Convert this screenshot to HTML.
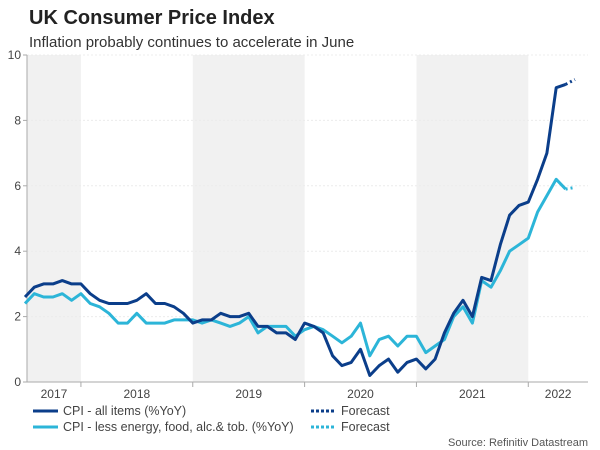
<!DOCTYPE html>
<html><head><meta charset="utf-8"><style>
body{margin:0;background:#fff;}
svg{display:block;font-family:"Liberation Sans",Arial,sans-serif;}
</style></head><body>
<svg id="chart" width="600" height="450" viewBox="0 0 600 450">
<text x="29" y="24" font-size="20" font-weight="bold" fill="#222">UK Consumer Price Index</text>
<text x="29" y="47" font-size="15" fill="#333">Inflation probably continues to accelerate in June</text>
<g id="bands"></g><g id="grid"></g><g id="axes"></g><g id="series"></g>
<g font-size="12.5" fill="#444">
<line x1="33" y1="411" x2="58" y2="411" stroke="#0b3e8a" stroke-width="3"/>
<text x="63" y="415">CPI - all items (%YoY)</text>
<line x1="33" y1="427" x2="58" y2="427" stroke="#2cb5d8" stroke-width="3"/>
<text x="63" y="431">CPI - less energy, food, alc.&amp; tob. (%YoY)</text>
<line x1="311" y1="411" x2="336" y2="411" stroke="#0b3e8a" stroke-width="3" stroke-dasharray="3,2"/>
<text x="341" y="415">Forecast</text>
<line x1="311" y1="427" x2="336" y2="427" stroke="#2cb5d8" stroke-width="3" stroke-dasharray="3,2"/>
<text x="341" y="431">Forecast</text>
</g>
<text x="588" y="446" font-size="11" fill="#555" text-anchor="end">Source: Refinitiv Datastream</text>
</svg>
<script>
// Monthly data Jul 2017 .. May 2022 (actual), forecast Jun 2022
const cpi = [2.6,2.9,3.0,3.0,3.1,3.0, 3.0,2.7,2.5,2.4,2.4,2.4,2.5,2.7,2.4,2.4,2.3,2.1, 1.8,1.9,1.9,2.1,2.0,2.0,2.1,1.7,1.7,1.5,1.5,1.3, 1.8,1.7,1.5,0.8,0.5,0.6,1.0,0.2,0.5,0.7,0.3,0.6, 0.7,0.4,0.7,1.5,2.1,2.5,2.0,3.2,3.1,4.2,5.1,5.4, 5.5,6.2,7.0,9.0,9.1];
const core = [2.4,2.7,2.6,2.6,2.7,2.5, 2.7,2.4,2.3,2.1,1.8,1.8,2.1,1.8,1.8,1.8,1.9,1.9, 1.9,1.8,1.9,1.8,1.7,1.8,2.0,1.5,1.7,1.7,1.7,1.4, 1.6,1.7,1.6,1.4,1.2,1.4,1.8,0.8,1.3,1.4,1.1,1.4, 1.4,0.9,1.1,1.3,2.0,2.3,1.8,3.1,2.9,3.4,4.0,4.2, 4.4,5.2,5.7,6.2,5.9];
const cpiForecast = [9.1,9.25];
const coreForecast = [5.9,5.95];
const yTicks = [0,2,4,6,8,10];
const years = ["2017","2018","2019","2020","2021","2022"];

const NS="http://www.w3.org/2000/svg";
const X0=25, MW=9.32, Y0=382, YU=32.7, LEFT=27, RIGHT=588;
const xOf=i=>X0+i*MW;
const yOf=v=>Y0-v*YU;
const yearStart=k=>xOf(6+(k-1)*12);
function mk(tag,attrs,parent){const e=document.createElementNS(NS,tag);for(const k in attrs)e.setAttribute(k,attrs[k]);parent.appendChild(e);return e;}
const bands=document.getElementById('bands'),grid=document.getElementById('grid'),axes=document.getElementById('axes'),series=document.getElementById('series');

years.forEach((y,k)=>{
  const a=Math.max(LEFT,k===0?LEFT:yearStart(k)), b=Math.min(RIGHT,yearStart(k+1));
  if(k%2===0){
    const r=mk('rect',{x:a,y:yOf(10),width:b-a,height:Y0-yOf(10),fill:'#f1f1f1'},bands);
    
    
  }
  const t=mk('text',{x:(a+b)/2,y:398,'font-size':12,fill:'#444','text-anchor':'middle'},axes);
  t.textContent=y;
  
  
  if(k>0){const tk=mk('line',{x1:a,x2:a,y1:Y0,y2:Y0+5,stroke:'#aaa'},axes);
    
    }
});
yTicks.forEach(v=>{
  if(v>0){const g=mk('line',{x1:LEFT,x2:RIGHT,y1:yOf(v),y2:yOf(v),stroke:'#ececec','stroke-dasharray':'2,2'},grid);
    
    }
  const tk=mk('line',{x1:LEFT-4,x2:LEFT,y1:yOf(v),y2:yOf(v),stroke:'#aaa'},axes);
  
  
  const t=mk('text',{x:LEFT-6,y:yOf(v)+4,'font-size':12,fill:'#444','text-anchor':'end'},axes);
  t.textContent=v;
  
  
});
const ya=mk('line',{x1:LEFT,x2:LEFT,y1:yOf(10),y2:Y0,stroke:'#aaa'},axes);


const xa=mk('line',{x1:LEFT,x2:RIGHT,y1:Y0,y2:Y0,stroke:'#aaa'},axes);



function line(vals,start,color,name,dash){
  const pts=vals.map((v,i)=>xOf(start+i).toFixed(1)+','+yOf(v).toFixed(1)).join(' ');
  const a={points:pts,fill:'none',stroke:color,'stroke-width':3,'stroke-linejoin':'round'};
  if(dash)a['stroke-dasharray']=dash;
  const p=mk('polyline',a,series);
  
  
}
line(core,0,'#2cb5d8','core-cpi-line');
line(cpi,0,'#0b3e8a','cpi-line');
line(coreForecast,core.length-1,'#2cb5d8','core-cpi-forecast-line','2,3');
line(cpiForecast,cpi.length-1,'#0b3e8a','cpi-forecast-line','2,3');
</script>
</body></html>
